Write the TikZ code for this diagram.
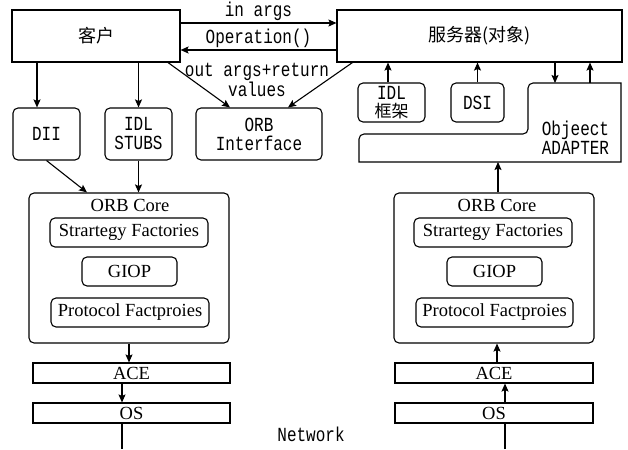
\documentclass[tikz,border=0pt]{standalone}
\usepackage{fontspec}
\usetikzlibrary{arrows.meta}
\setmainfont{Liberation Serif}
\newfontfamily\monof{Liberation Mono}[FakeStretch=0.8]
\newfontfamily\cjk{Noto Sans CJK SC}
\begin{document}
\begin{tikzpicture}[>={Stealth[length=8pt,width=7pt,inset=1.5pt]}, x=1pt, y=1pt, line width=1.1pt,
    box/.style={draw, rectangle, inner sep=1pt, align=center},
    rbox/.style={box, rounded corners=5pt},
    mono/.style={font=\monof\fontsize{20}{19}\selectfont},
    serif/.style={font=\fontsize{18.5}{20}\selectfont},
    han/.style={font=\cjk\fontsize{18}{20}\selectfont}]
    \useasboundingbox (0,0) rectangle (628,-449);

    \node[box,han,minimum width=168pt,minimum height=52pt] (client) at (96,-36) {客户};
    \node[box,han,minimum width=285pt,minimum height=52pt] (server) at (479.5,-36) {服务器(对象)};

    \draw[->] ([yshift=13pt]client.east) -- node[mono,above,inner sep=2pt] {in args} ([yshift=13pt]server.west);
    \draw[->] ([yshift=-14pt]server.west) -- node[mono,above,inner sep=2pt] {Operation()} ([yshift=-14pt]client.east);
    \node[mono,align=center,font=\monof\fontsize{20}{16}\selectfont] (outargs) at (257,-80) {out args+return\\values};

    \node[rbox,mono,minimum width=67pt,minimum height=52pt] (dii) at (46.5,-134) {DII};
    \node[rbox,mono,minimum width=67pt,minimum height=52pt] (stubs) at (138.5,-134) {IDL\\STUBS};
    \node[rbox,mono,minimum width=126pt,minimum height=52pt] (orbif) at (259,-134) {ORB\\Interface};

    \draw[->] ([xshift=-9.5pt]dii.north |- client.south) -- ([xshift=-9.5pt]dii.north);
    \draw[->] (stubs.north |- client.south) -- (stubs.north);
    \draw[->] ([xshift=72pt]client.south) -- ([xshift=-29pt]orbif.north);
    \draw[->] ([xshift=16pt]server.south west) -- ([xshift=29pt]orbif.north);

    % server side
    \node[rbox,mono,minimum width=67pt,minimum height=39pt,inner sep=0pt,font=\monof\fontsize{20}{18.5}\selectfont] (skel) at (391.5,-102.5) {IDL\\{\cjk\fontsize{17}{18.5}\selectfont 框架}};
    \node[rbox,mono,minimum width=53pt,minimum height=39pt] (dsi) at (477.5,-102.5) {DSI};
    \draw[->] ([xshift=-3.5pt]skel.north) -- ([xshift=-3.5pt]skel.north |- server.south);
    \draw[->] (dsi.north) -- (dsi.north |- server.south);

    \draw (621,-162) -- (359,-162) [rounded corners=5pt] -- (359,-134) -- (528,-134) -- (528,-83) [sharp corners] -- (621,-83) -- cycle;
    \node[mono,anchor=west,align=left] (adapter) at (538,-138) {Objeect\\ADAPTER};
    \coordinate (adin) at (555,-83);
    \coordinate (adout) at (590,-83);
    \coordinate (adbot) at (498,-162);
    \draw[->] (adin |- server.south) -- (adin);
    \draw[->] (adout) -- (adout |- server.south);

    % client ORB
    \node[rbox,minimum width=200pt,minimum height=150pt] (lcore) at (129,-268) {};
    \node[serif] (lcoret) at (130,-205) {ORB Core};
    \node[rbox,serif,minimum width=158pt,minimum height=29pt] (lstrat) at (129,-232.5) {Strartegy Factories};
    \node[rbox,serif,minimum width=95pt,minimum height=29pt] (lgiop) at (129.5,-271.5) {GIOP};
    \node[rbox,serif,minimum width=158pt,minimum height=29pt] (lproto) at (130,-312.5) {Protocol Factproies};
    \node[box,serif,minimum width=197pt,minimum height=20pt,inner sep=0pt] (lace) at (131.5,-373) {ACE};
    \node[box,serif,minimum width=197pt,minimum height=20pt,inner sep=0pt] (los) at (131.5,-413) {OS};
    \coordinate (lnet) at (122,-449);

    \draw[->] (dii.south) -- ([xshift=-42pt]lcore.north);
    \draw[->] (stubs.south) -- (stubs.south |- lcore.north);
    \draw[->] (lcore.south) -- (lcore.south |- lace.north);
    \draw[->] (lace.south -| lnet) -- (los.north -| lnet);
    \draw (los.south -| lnet) -- (lnet);

    % server ORB
    \node[rbox,minimum width=200pt,minimum height=150pt] (rcore) at (494,-268) {};
    \node[serif] (rcoret) at (497,-205) {ORB Core};
    \node[rbox,serif,minimum width=158pt,minimum height=29pt] (rstrat) at (493,-232.5) {Strartegy Factories};
    \node[rbox,serif,minimum width=95pt,minimum height=29pt] (rgiop) at (494.5,-271.5) {GIOP};
    \node[rbox,serif,minimum width=157pt,minimum height=29pt] (rproto) at (494.5,-312.5) {Protocol Factproies};
    \node[box,serif,minimum width=198pt,minimum height=20pt,inner sep=0pt] (race) at (494,-373) {ACE};
    \node[box,serif,minimum width=198pt,minimum height=20pt,inner sep=0pt] (ros) at (494,-413) {OS};
    \coordinate (rnet) at (505,-449);

    \draw[->] (adbot |- rcore.north) -- (adbot);
    \draw[->] ([xshift=3pt]race.north) -- ([xshift=3pt]rcore.south);
    \draw[->] (ros.north -| rnet) -- (race.south -| rnet);
    \draw (rnet) -- (rnet |- ros.south);

    \node[mono] (net) at (311,-434) {Network};
\end{tikzpicture}
\end{document}
